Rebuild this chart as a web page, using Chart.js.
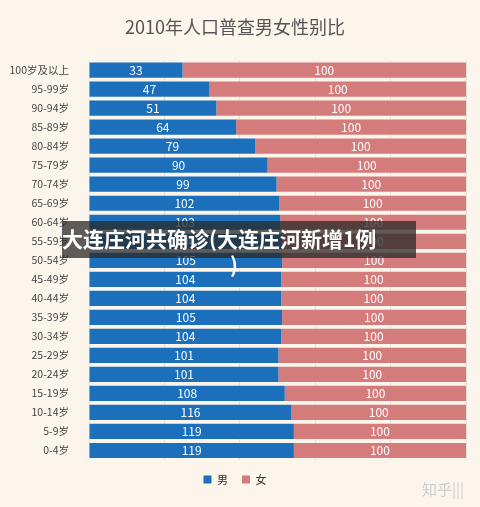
<!DOCTYPE html>
<html><head><meta charset="utf-8">
<script src="https://cdn.jsdelivr.net/npm/chart.js@4"></script>
<style>
html,body{margin:0;padding:0;background:#fcf5ec;}
#wrap{position:relative;width:480px;height:507px;font-family:"Noto Sans CJK SC",sans-serif;}
#ov{position:absolute;left:62px;top:221px;width:354px;height:37px;background:rgba(40,40,40,0.75);color:#fff;font-weight:bold;font-size:21px;line-height:26px;padding:4px 0 0 0;box-sizing:border-box;text-align:left;white-space:nowrap;}
#wm{position:absolute;left:422px;top:478px;color:#ccc;font-size:15px;}
</style></head><body>
<div id="wrap"><canvas id="c" width="480" height="507"></canvas>
<div id="ov">大连庄河共确诊(大连庄河新增1例<br><span style="padding-left:168px">)</span></div>
<div id="wm">知乎|||</div></div>
<script>
const categories=["100岁及以上","95-99岁","90-94岁","85-89岁","80-84岁","75-79岁","70-74岁","65-69岁","60-64岁","55-59岁","50-54岁","45-49岁","40-44岁","35-39岁","30-34岁","25-29岁","20-24岁","15-19岁","10-14岁","5-9岁","0-4岁"];
const male=[33,47,51,64,79,90,99,102,103,104,105,104,104,105,104,101,101,108,116,119,119];
const female=[100,100,100,100,100,100,100,100,100,100,100,100,100,100,100,100,100,100,100,100,100];
const mShare=male.map((m,i)=>m/(m+female[i])*100);
const fShare=female.map((f,i)=>f/(male[i]+f)*100);
const raw=[male,female];
const labelPlugin={id:'lbl',afterDatasetsDraw(ch){const c=ch.ctx;c.save();c.font='12px "Noto Sans CJK SC",sans-serif';c.fillStyle='#fff';c.textAlign='center';c.textBaseline='middle';
ch.data.datasets.forEach((d,di)=>{ch.getDatasetMeta(di).data.forEach((b,i)=>{const x=(b.base+b.x)/2;c.fillText(raw[di][i],x,b.y);});});c.restore();}};
new Chart(document.getElementById('c'),{type:'bar',
data:{labels:categories,datasets:[
{label:'男',data:mShare,backgroundColor:'#1b6fbb',barPercentage:0.8,categoryPercentage:1},
{label:'女',data:fShare,backgroundColor:'#d47c7c',barPercentage:0.8,categoryPercentage:1}]},
options:{indexAxis:'y',responsive:false,animation:false,
layout:{padding:{left:4,right:14,top:0,bottom:12}},
plugins:{title:{display:true,text:'2010年人口普查男女性别比',color:'#555',font:{size:18,family:'"Noto Sans CJK SC"',weight:'normal'},padding:{top:16,bottom:23}},
legend:{position:'bottom',labels:{boxWidth:8,boxHeight:8,color:'#333',font:{size:11,family:'"Noto Sans CJK SC"'},padding:14}},tooltip:{enabled:false}},
scales:{x:{stacked:true,min:0,max:100,display:true,ticks:{display:false},grid:{color:'#e6e0d8',drawTicks:false},border:{display:false}},
y:{stacked:true,afterFit(a){a.width=85;},ticks:{color:'#444',padding:12,font:{size:10.5,family:'"Noto Sans CJK SC"'}},grid:{display:false},border:{display:false}}}},
plugins:[labelPlugin]});
</script></body></html>
